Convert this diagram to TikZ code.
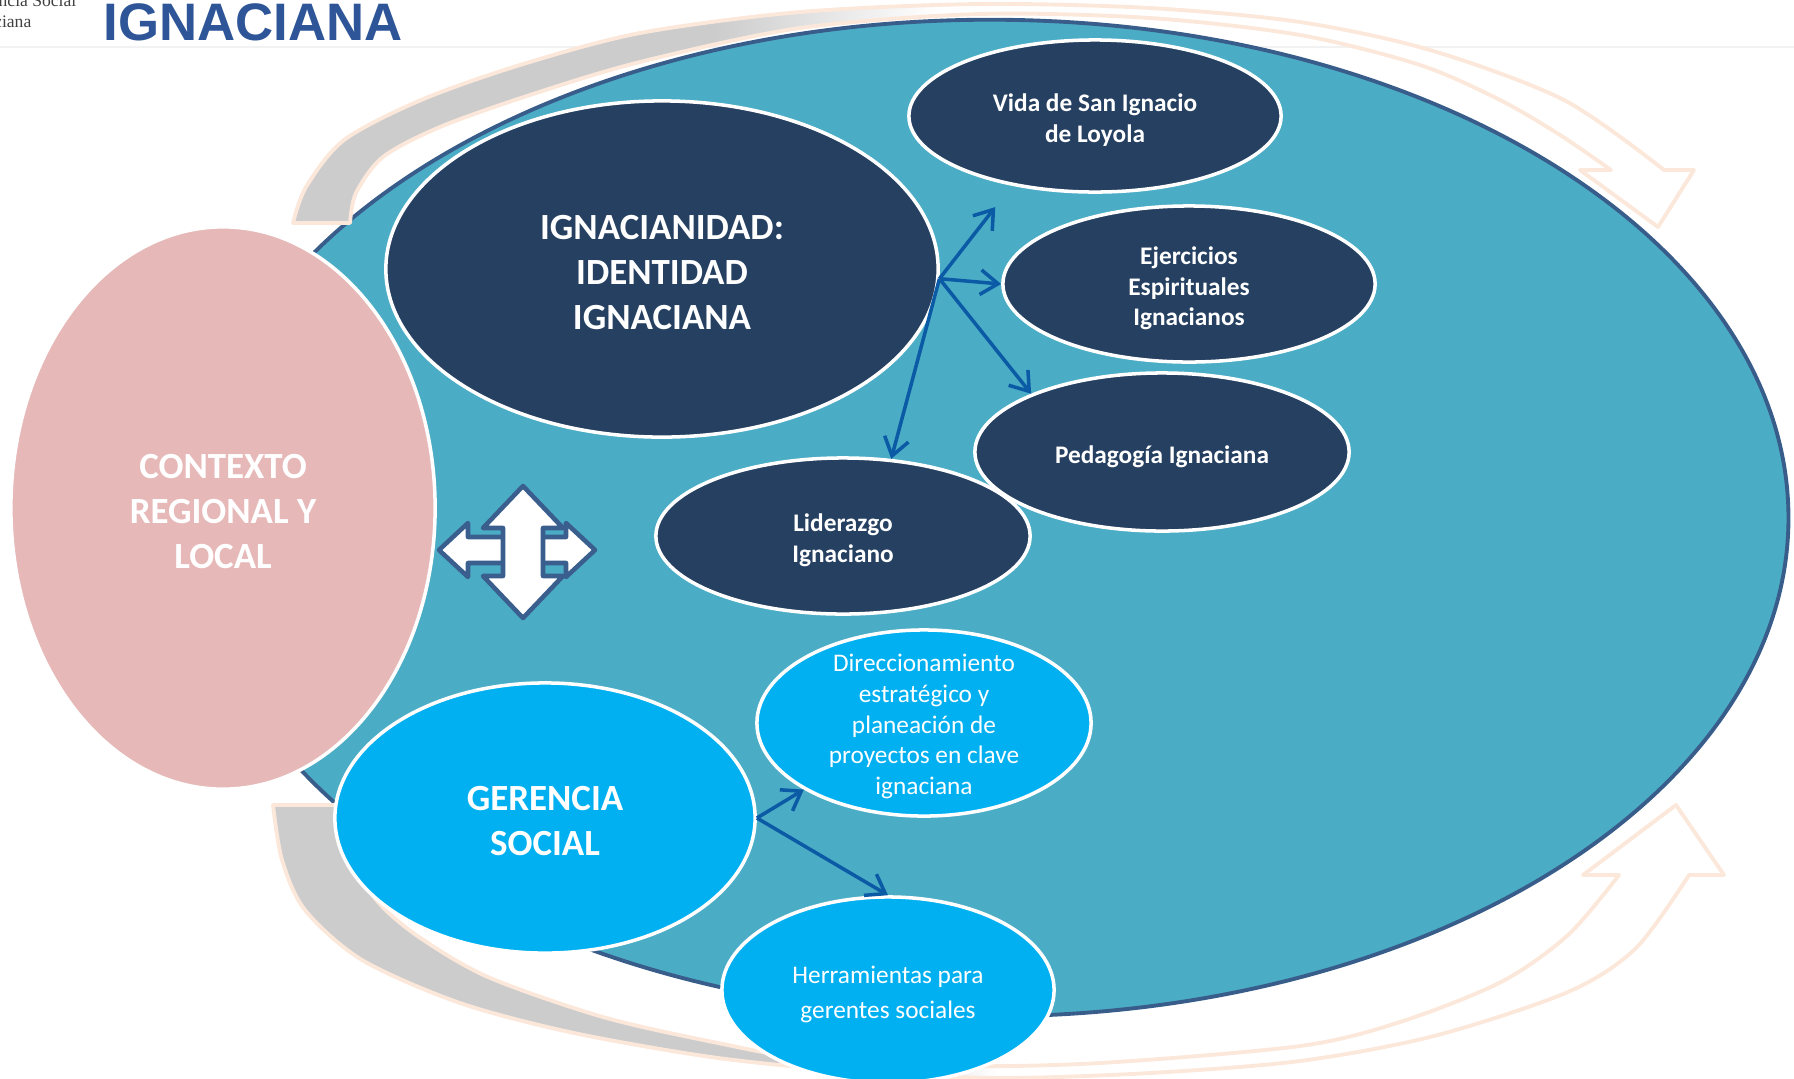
\documentclass[tikz,border=0pt]{standalone}
\usepackage{fontspec}
\setmainfont{Carlito}
\newfontfamily\titlefont{Liberation Sans}
\newfontfamily\headfont{Liberation Serif}
\usetikzlibrary{shapes.geometric,arrows.meta}

\definecolor{aqua}{HTML}{4BACC6}
\definecolor{aquaedge}{HTML}{385D8A}
\definecolor{navy}{HTML}{264061}
\definecolor{rose}{HTML}{E6B9B8}
\definecolor{sky}{HTML}{00B0F0}
\definecolor{linkblue}{HTML}{0B5AA5}
\definecolor{peach}{HTML}{FCE8DA}
\definecolor{bandgray}{HTML}{CCCCCC}
\definecolor{titleblue}{HTML}{2E5597}
\definecolor{crossedge}{HTML}{3A5F8F}
\definecolor{headgray}{HTML}{404040}

% hueco arriba del texto (lo baja un poco dentro de la elipse)
\newcommand{\gapbig}{\rule{0pt}{8.8pt}}
\newcommand{\gapsmall}{\rule{0pt}{7.5pt}}

% degradado gris -> blanco de las flechas curvas
\pgfdeclarehorizontalshading{topfade}{100bp}{color(0bp)=(bandgray); color(40bp)=(bandgray); color(48bp)=(white); color(100bp)=(white)}
\pgfdeclarehorizontalshading{botfade}{100bp}{color(0bp)=(bandgray); color(45bp)=(bandgray); color(50bp)=(white); color(100bp)=(white)}

\begin{document}
\begin{tikzpicture}[x=0.01cm, y=-0.01cm,
  oval/.style={ellipse, draw=white, line width=1pt, text=white, align=center, inner sep=0pt},
  bigfont/.style={font=\fontsize{10.5}{12.8}\selectfont\bfseries},
  smallfont/.style={font=\fontsize{7.2}{8.7}\selectfont\bfseries},
  lightfont/.style={font=\fontsize{7.2}{8.7}\selectfont},
  band/.style={draw=peach, line width=1.1pt, line join=round},
  link/.style={draw=linkblue, line width=1pt, -{Straight Barb[length=5pt,width=7pt]}},
  cross/.style={fill=white, draw=crossedge, line width=1.3pt, line join=round}]

\useasboundingbox (0,0) rectangle (1794,1078);

% Encabezado
\draw[gray!10, line width=0.4pt] (0,47) -- (1794,47);
\node[anchor=base east, inner sep=0pt, text=headgray, font=\headfont\fontsize{5}{6}\selectfont] (headone) at (77,6) {ncia Social};
\node[anchor=base east, inner sep=0pt, text=headgray, font=\headfont\fontsize{5}{6}\selectfont] (headtwo) at (32,27) {ciana};
\node[anchor=base west, inner sep=0pt, text=titleblue, font=\titlefont\fontsize{15}{18}\selectfont\bfseries] (title) at (103,40) {IGNACIANA};

% Elipse de fondo
\draw[fill=aqua, draw=aquaedge, line width=1.1pt] (990,518) ellipse [x radius=7.98cm, y radius=4.98cm];

% Flecha curva de arriba
\shadedraw[band, shading=topfade]
  plot[smooth] coordinates {(293,223) (306,187) (344,140) (421,100) (520,65) (640,33) (800,12) (980,4) (1150,8) (1300,22) (1430,50) (1564,100) (1664,170)}
  -- (1694,170) -- (1658,227) -- (1580,170) -- (1611,170)
  -- plot[smooth] coordinates {(1611,170) (1560,135) (1500,100) (1420,65) (1300,35) (1150,18) (980,14) (800,28) (640,62) (530,95) (440,127) (383,157) (356,193) (350,223)}
  -- cycle;

% Flecha curva de abajo
\shadedraw[band, shading=botfade]
  plot[smooth] coordinates {(273,805) (282,860) (305,910) (362,960) (460,1003) (574,1033) (718,1058) (861,1072) (1000,1078) (1150,1073) (1300,1061) (1434,1036) (1568,992) (1636,948) (1689,875)}
  -- (1724,875) -- (1676,805) -- (1583,875) -- (1619,875)
  -- plot[smooth] coordinates {(1619,875) (1568,935) (1501,982) (1400,1022) (1300,1046) (1100,1063) (950,1066) (804,1058) (718,1043) (603,1017) (488,977) (419,937) (379,903) (351,860) (342,805)}
  -- cycle;

% Elipses
\node[oval, fill=rose, bigfont, minimum width=4.24cm, minimum height=5.62cm] (ctx) at (223,508) {\gapbig CONTEXTO\\REGIONAL Y\\LOCAL};
\node[oval, fill=navy, bigfont, minimum width=5.52cm, minimum height=3.36cm] (ign) at (662,269) {\gapbig IGNACIANIDAD:\\IDENTIDAD\\IGNACIANA};
\node[oval, fill=navy, smallfont, minimum width=3.72cm, minimum height=1.52cm] (vida) at (1095,116) {\gapsmall Vida de San Ignacio\\de Loyola};
\node[oval, fill=navy, smallfont, minimum width=3.72cm, minimum height=1.56cm] (ejer) at (1189,284) {\gapsmall Ejercicios\\Espirituales\\Ignacianos};
\node[oval, fill=navy, smallfont, minimum width=3.74cm, minimum height=1.56cm] (lid) at (843,536) {\gapsmall Liderazgo\\Ignaciano};
\node[oval, fill=navy, smallfont, minimum width=3.74cm, minimum height=1.58cm] (peda) at (1162,452) {\gapsmall Pedagogía Ignaciana};
\node[oval, fill=sky, bigfont, minimum width=4.20cm, minimum height=2.70cm] (ger) at (545,818) {\gapbig GERENCIA\\SOCIAL};
\node[oval, fill=sky, minimum width=3.34cm, minimum height=1.86cm] (dir) at (924,723) {};
\node[lightfont, text=white, align=center, inner sep=0pt] (dirtext) at ([yshift=-1pt]dir.center) {Direccionamiento\\estratégico y\\planeación de\\proyectos en clave\\ignaciana};
\node[oval, fill=sky, lightfont, minimum width=3.32cm, minimum height=1.86cm] (herr) at (888,990) {\gapsmall Herramientas para\\[1.2pt]gerentes sociales};

% Flechas
\coordinate (ignhub) at (ign.-2);
\draw[link, shorten >=0.27cm] (ignhub) -- (vida.220);
\draw[link] (ignhub) -- (ejer.west);
\draw[link] (ignhub) -- (peda.156);
\draw[link] (ignhub) -- (lid.58);
\draw[link] (ger.east) -- (dir.209);
\draw[link] (ger.east) -- (herr.north);

% Flecha de cuatro puntas
\begin{scope}[shift={(517,550)}]
\draw[cross] (-78,0) -- (-49,-27) -- (-49,-13) -- (49,-13) -- (49,-27) -- (78,0) -- (49,27) -- (49,13) -- (-49,13) -- (-49,27) -- cycle;
\end{scope}
\begin{scope}[shift={(523,552)}]
\draw[cross] (0,-66) -- (40,-24) -- (20,-24) -- (20,24) -- (40,24) -- (0,66) -- (-40,24) -- (-20,24) -- (-20,-24) -- (-40,-24) -- cycle;
\end{scope}

\end{tikzpicture}
\end{document}
